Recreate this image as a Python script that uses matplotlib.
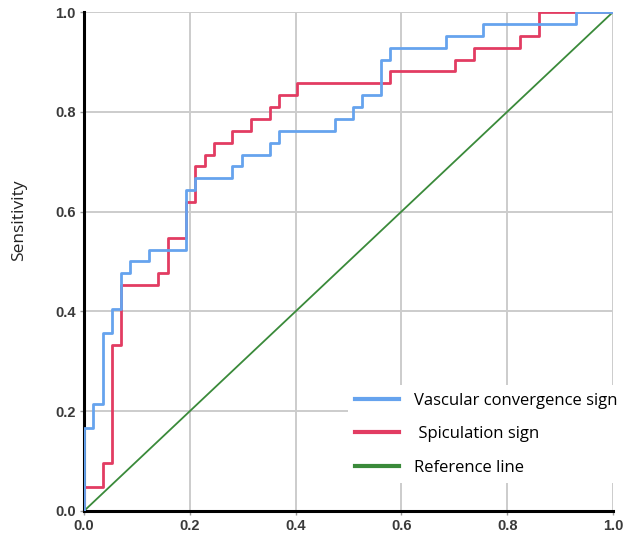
import matplotlib
matplotlib.use("Agg")
from matplotlib import pyplot as plt
import numpy as np

# ROC step points (42 positives, 57 negatives)
n_pos = 42
n_neg = 57

vascular_fp = [0, 0, 1, 2, 3, 4, 5, 7, 11, 12, 16, 17, 20, 21, 27, 29, 30, 32, 33, 39, 43, 53, 57]
vascular_tp = [0, 7, 9, 15, 17, 20, 21, 22, 27, 28, 29, 30, 31, 32, 33, 34, 35, 38, 39, 40, 41, 42, 42]

spiculation_fp = [0, 0, 2, 3, 4, 8, 9, 11, 12, 13, 14, 16, 18, 20, 21, 23, 33, 40, 42, 47, 49, 57]
spiculation_tp = [0, 2, 4, 14, 19, 20, 23, 26, 29, 30, 31, 32, 33, 34, 35, 36, 37, 38, 39, 40, 42, 42]

ref_line = [0.0, 1.0]
ticks = [0.0, 0.2, 0.4, 0.6, 0.8, 1.0]
labels = ["Vascular convergence sign", " Spiculation sign", "Reference line"]

fig = plt.figure(figsize=(6.32, 5.34), dpi=100)
ax = fig.add_axes([0.1329, 0.0431, 0.8370, 0.9344])

l_ref, = ax.plot(ref_line, ref_line, color="#3a8a3a", lw=1.3, zorder=3)
l_sp, = ax.step(np.array(spiculation_fp) / n_neg, np.array(spiculation_tp) / n_pos,
                where="post", color="#e23c62", lw=2.0, zorder=4)
l_vc, = ax.step(np.array(vascular_fp) / n_neg, np.array(vascular_tp) / n_pos,
                where="post", color="#66a3ee", lw=2.0, zorder=5)

ax.set_xlim(0, 1)
ax.set_ylim(0, 1)
ax.set_xticks(ticks)
ax.set_yticks(ticks)
ax.set_xticklabels([f"{t:.1f}" for t in ticks])
ax.set_yticklabels([f"{t:.1f}" for t in ticks])
ax.grid(True, color="#cccccc", lw=1.4)
ax.set_axisbelow(True)

for s in ["top", "right"]:
    ax.spines[s].set_visible(False)
for s in ["left", "bottom"]:
    ax.spines[s].set_linewidth(2.2)
    ax.spines[s].set_color("black")

ax.tick_params(axis="both", length=3, width=1, color="#999999",
               labelsize=10.5, labelcolor="#3a3a3a", pad=3)
ax.tick_params(axis="x", pad=2.5)
for lab in ax.get_xticklabels() + ax.get_yticklabels():
    lab.set_fontfamily("Liberation Sans")
    lab.set_fontweight("bold")

ax.set_ylabel("Sensitivity", fontsize=12.5, family="Open Sans", color="#222222")
ax.yaxis.set_label_coords(-0.108, 0.583)

leg = ax.legend([l_vc, l_sp, l_ref], labels, loc="upper left",
                bbox_to_anchor=(0.499, 0.252), borderaxespad=0,
                frameon=True, fancybox=False, handlelength=2.6, handletextpad=0.9,
                labelspacing=1.05, borderpad=0.45,
                prop={"family": "Open Sans", "size": 12})
leg.get_frame().set_facecolor("white")
leg.get_frame().set_edgecolor("none")
leg.get_frame().set_alpha(1)
leg.set_zorder(10)
for h in leg.get_lines():
    h.set_linewidth(3)

fig.savefig("out.png", dpi=100)
